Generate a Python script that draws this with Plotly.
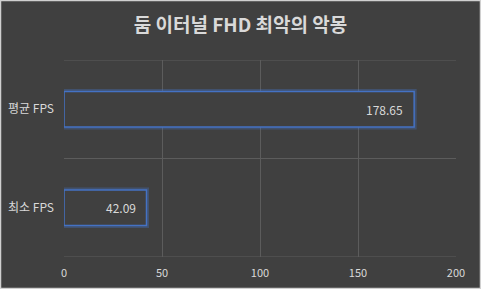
import plotly.graph_objects as go

categories = ["최소 FPS", "평균 FPS"]
values = [42.09, 178.65]
x_ticks = [0, 50, 100, 150, 200]
title_text = "<b>둠 이터널 FHD 최악의 악몽</b>"

BG = "#404040"
BLUE = "#4472C4"
TXT = "#d9d9d9"
GRID = "#5c5c5c"
FONT = "Noto Sans CJK KR, Noto Sans, sans-serif"

W, H = 481, 289
L, R, T, B = 64, 25, 60, 32

fig = go.Figure()
# glow
fig.add_trace(go.Bar(
    y=categories, x=values, orientation="h", width=0.36,
    marker=dict(color="rgba(0,0,0,0)", line=dict(color="rgba(68,114,196,0.35)", width=5)),
    hoverinfo="skip", showlegend=False,
))
fig.add_trace(go.Bar(
    y=categories, x=values, orientation="h", width=0.36,
    marker=dict(color=BG, line=dict(color=BLUE, width=1.5)),
    showlegend=False,
))

for c, v in zip(categories, values):
    fig.add_annotation(x=v, y=c, xref="x", yref="y", text=f"{v:.2f}",
                       showarrow=False, xanchor="right", xshift=-9,
                       font=dict(family=FONT, size=12, color=TXT))

# category boundary lines at the outer edges of the plot
for yb in (-0.5, 1.5):
    fig.add_shape(type="line", xref="paper", yref="y", x0=0, x1=1, y0=yb, y1=yb,
                  line=dict(color=GRID, width=1), layer="below")

pw = W - L - R
ph = H - T - B
fig.add_shape(type="rect", xref="paper", yref="paper",
              x0=(-L + 0.5) / pw, x1=1 + (R - 0.5) / pw,
              y0=(-B + 0.5) / ph, y1=1 + (T - 0.5) / ph,
              line=dict(color="#d0d0d0", width=1.5), layer="above")

fig.update_layout(
    width=W, height=H,
    margin=dict(l=L, r=R, t=T, b=B, autoexpand=False),
    paper_bgcolor=BG, plot_bgcolor=BG,
    barmode="overlay",
    title=dict(text=title_text, x=0.5, xanchor="center", y=1 - 25 / H, yanchor="middle",
               font=dict(family=FONT, size=19, color=TXT)),
    xaxis=dict(range=[0, 200], tickvals=x_ticks, showgrid=True, gridcolor=GRID, gridwidth=1,
               zeroline=False, showline=False, ticks="outside", ticklen=6, tickcolor="rgba(0,0,0,0)",
               automargin=False,
               tickfont=dict(family=FONT, size=11, color=TXT), fixedrange=True),
    yaxis=dict(type="category", tickson="boundaries", showgrid=True, gridcolor=GRID,
               gridwidth=1, range=[-0.5, 1.5], ticks="", ticklabelstandoff=9,
               zeroline=False, showline=False, automargin=False,
               tickfont=dict(family=FONT, size=12, color=TXT)),
)

fig.write_html("out.html")
